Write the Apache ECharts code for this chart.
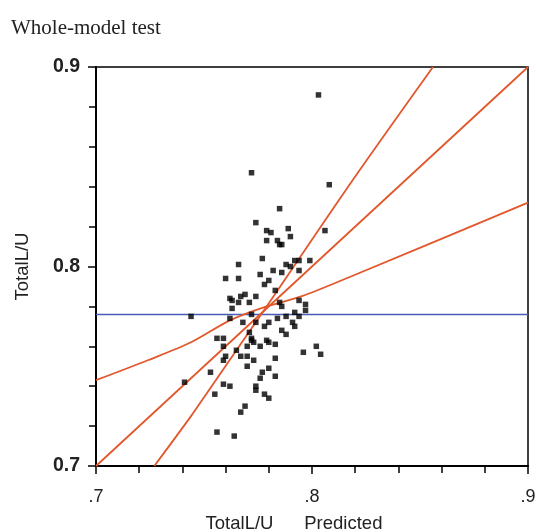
<!DOCTYPE html>
<html>
<head>
<meta charset="utf-8">
<script src="https://cdn.jsdelivr.net/npm/echarts@6/dist/echarts.min.js"></script>
<style>
html,body{margin:0;padding:0;background:#fff;}
#chart{width:536px;height:532px;}
</style>
</head>
<body>
<div id="chart"></div>
<script>
// predicted (x) and actual (y) values of the points
var predicted = [0.772,0.808,0.803,0.785,0.774,0.779,0.781,0.789,0.790,0.779,0.784,0.785,0.786,0.806,0.777,0.766,0.788,0.792,0.794,0.799,
	0.790,0.794,0.782,0.786,0.760,0.766,0.776,0.780,0.778,0.783,0.762,0.767,0.769,0.774,0.763,0.766,0.771,0.763,0.785,0.786,
	0.794,0.797,0.797,0.744,0.762,0.772,0.768,0.774,0.778,0.780,0.784,0.788,0.792,0.794,0.791,0.792,0.786,0.788,0.771,0.772,
	0.772,0.773,0.756,0.759,0.759,0.765,0.770,0.776,0.779,0.780,0.783,0.796,0.802,0.804,0.760,0.759,0.767,0.770,0.773,0.770,
	0.783,0.780,0.753,0.777,0.776,0.783,0.759,0.762,0.774,0.774,0.755,0.778,0.780,0.769,0.767,0.756,0.764,0.741];
var actual = [0.847,0.841,0.886,0.829,0.822,0.818,0.817,0.819,0.815,0.813,0.813,0.811,0.811,0.818,0.804,0.801,0.801,0.803,0.803,0.803,
	0.800,0.798,0.798,0.797,0.794,0.794,0.796,0.793,0.791,0.788,0.784,0.785,0.786,0.785,0.783,0.782,0.782,0.779,0.782,0.780,
	0.783,0.781,0.778,0.775,0.774,0.776,0.772,0.772,0.770,0.772,0.774,0.775,0.777,0.775,0.772,0.770,0.768,0.766,0.767,0.764,
	0.763,0.762,0.764,0.764,0.760,0.758,0.760,0.760,0.763,0.762,0.761,0.757,0.760,0.756,0.755,0.753,0.755,0.755,0.753,0.750,
	0.754,0.749,0.747,0.747,0.744,0.745,0.741,0.740,0.740,0.738,0.736,0.736,0.734,0.730,0.727,0.717,0.715,0.742];

var meanY = 0.776;
var fitLine = [[0.7,0.7],[0.9,0.9]];
// confidence curves
var curveA = [[0.700,0.743],[0.724,0.753],[0.744,0.762],[0.762,0.773],[0.779,0.780],[0.795,0.785],[0.818,0.795],[0.900,0.832]];
var curveB = [[0.727,0.700],[0.744,0.725],[0.751,0.736],[0.779,0.780],[0.818,0.842],[0.856,0.900]];

var xTicks = [0.7, 0.8, 0.9];
var yTicks = [0.7, 0.8, 0.9];

var points = [];
for (var i = 0; i < predicted.length; i++) {
	points.push([predicted[i], actual[i]]);
}

var chart = echarts.init(document.getElementById('chart'));
var lineColor = '#E2572C';
var option = {
	animation: false,
	title: {
		text: 'Whole-model test',
		left: 6,
		top: 13,
		textStyle: {
			fontFamily: 'Liberation Serif',
			fontWeight: 'normal',
			fontSize: 21,
			color: '#222'
		}
	},
	grid: {
		left: 96,
		right: 8,
		top: 67,
		bottom: 66,
		outerBoundsMode: 'none',
		containLabel: false,
		show: true,
		borderColor: '#000',
		borderWidth: 1.5
	},
	xAxis: {
		type: 'value',
		min: xTicks[0],
		max: xTicks[2],
		interval: 0.1,
		name: 'TotalL/U      Predicted',
		nameLocation: 'middle',
		nameGap: 48,
		nameTextStyle: {
			fontFamily: 'Liberation Sans',
			fontSize: 18.5,
			color: '#222',
			padding: [0, 36, 0, 0]
		},
		axisLine: {show: true, lineStyle: {color: '#000', width: 2}},
		axisTick: {show: true, length: 8, lineStyle: {color: '#000', width: 1.5}},
		minorTick: {show: true, splitNumber: 5, length: 7, lineStyle: {color: '#000', width: 1.5}},
		splitLine: {show: false},
		axisLabel: {
			margin: 22,
			fontFamily: 'Liberation Sans',
			fontSize: 18,
			color: '#222',
			formatter: function (v) { return v.toFixed(1).replace(/^0/, ''); }
		}
	},
	yAxis: {
		type: 'value',
		min: yTicks[0],
		max: yTicks[2],
		interval: 0.1,
		name: 'TotalL/U',
		nameLocation: 'middle',
		nameGap: 64,
		nameTextStyle: {
			fontFamily: 'Liberation Sans',
			fontSize: 18.5,
			color: '#222'
		},
		axisLine: {show: true, lineStyle: {color: '#000', width: 2}},
		axisTick: {show: true, length: 8, lineStyle: {color: '#000', width: 1.5}},
		minorTick: {show: true, splitNumber: 5, length: 7, lineStyle: {color: '#000', width: 1.5}},
		splitLine: {show: false},
		axisLabel: {
			margin: 16,
			fontFamily: 'Liberation Sans',
			fontSize: 19.5,
			fontWeight: 'bold',
			color: '#222',
			formatter: function (v) { return v.toFixed(1); }
		}
	},
	series: [
		{
			type: 'line',
			data: [[xTicks[0], meanY], [xTicks[2], meanY]],
			showSymbol: false,
			lineStyle: {color: '#4B5BB8', width: 1.5},
			z: 2
		},
		{
			type: 'line',
			data: fitLine,
			showSymbol: false,
			lineStyle: {color: lineColor, width: 1.8},
			z: 2
		},
		{
			type: 'line',
			data: curveA,
			showSymbol: false,
			smooth: 0.3,
			lineStyle: {color: lineColor, width: 1.8},
			z: 2
		},
		{
			type: 'line',
			data: curveB,
			showSymbol: false,
			smooth: 0.3,
			lineStyle: {color: lineColor, width: 1.8},
			z: 2
		},
		{
			type: 'scatter',
			data: points,
			symbol: 'rect',
			symbolSize: 5.5,
			itemStyle: {color: '#000'},
			z: 3
		}
	]
};
chart.setOption(option);
</script>
</body>
</html>
